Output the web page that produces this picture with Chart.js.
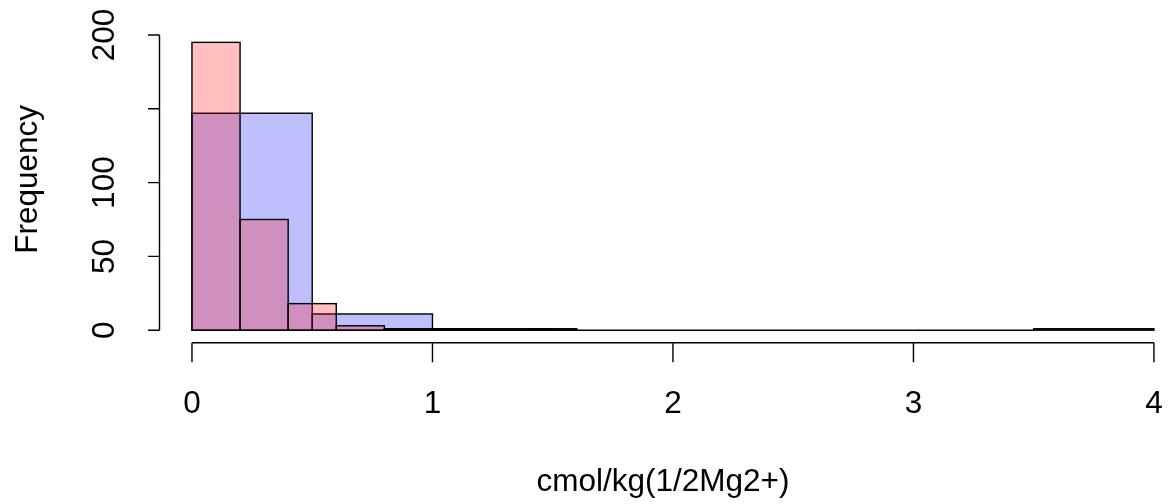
<!DOCTYPE html>
<html>
<head>
<meta charset="utf-8">
<script src="https://cdn.jsdelivr.net/npm/chart.js@4.4.1/dist/chart.umd.min.js"></script>
<style>
  html, body { margin: 0; padding: 0; background: #fff; }
  #wrap { width: 1171px; height: 504px; }
</style>
</head>
<body>
<div id="wrap"><canvas id="myChart" width="1171" height="504"></canvas></div>
<script>
// histogram bins (edges) and counts
const redBreaks = [0, 0.2, 0.4, 0.6, 0.8, 1.0, 1.2, 1.4, 1.6];
const redCounts = [195, 75, 18, 3, 1, 1, 0, 1];
const blueBreaks = [0, 0.5, 1.0, 1.5, 2.0, 2.5, 3.0, 3.5, 4.0];
const blueCounts = [147, 11, 1, 0, 0, 0, 0, 1];

// axis ticks
const xTicks = [0, 1, 2, 3, 4];
const xTickLabels = ['0', '1', '2', '3', '4'];
const yTicks = [0, 50, 100, 150, 200];
const yTickLabels = ['0', '50', '100', '', '200'];  // R drops 150 (overlap)

const xTitle = 'cmol/kg(1/2Mg2+)';
const yTitle = 'Frequency';

const xMin = -0.135, xMax = 4.046;
const yMin = -8.46, yMax = 210.15;

function binPoints(breaks, counts) {
    return counts.map((c, i) => ({ x: (breaks[i] + breaks[i + 1]) / 2, y: c }));
}

const FONT = '31.5px "Liberation Sans", Arial, sans-serif';
const LW = 1.4;

// R draws bar outlines centred on the edges, zero bins become flat lines
const rOutlines = {
    id: 'rOutlines',
    afterDatasetDraw(chart, args) {
        const ctx = chart.ctx;
        ctx.save();
        ctx.strokeStyle = '#000';
        ctx.lineWidth = LW;
        args.meta.data.forEach(bar => {
            const p = bar.getProps(['x', 'y', 'base', 'width'], true);
            const left = p.x - p.width / 2;
            ctx.strokeRect(left, p.y, p.width, p.base - p.y);
        });
        ctx.restore();
    }
};

// R style axes: lines from first to last tick, outward ticks
const rAxes = {
    id: 'rAxes',
    afterDraw(chart) {
        const ctx = chart.ctx;
        const area = chart.chartArea;
        const xs = chart.scales.xBlue;
        const ys = chart.scales.y;
        ctx.save();
        ctx.strokeStyle = '#000';
        ctx.fillStyle = '#000';
        ctx.lineWidth = LW;
        ctx.font = FONT;

        // x axis
        const ax = area.bottom;
        ctx.beginPath();
        ctx.moveTo(xs.getPixelForValue(xTicks[0]), ax);
        ctx.lineTo(xs.getPixelForValue(xTicks[xTicks.length - 1]), ax);
        xTicks.forEach(v => {
            const px = xs.getPixelForValue(v);
            ctx.moveTo(px, ax);
            ctx.lineTo(px, ax + 19.5);
        });
        ctx.stroke();
        ctx.textAlign = 'center';
        ctx.textBaseline = 'alphabetic';
        xTicks.forEach((v, i) => {
            ctx.fillText(xTickLabels[i], xs.getPixelForValue(v), ax + 70);
        });
        ctx.fillText(xTitle, 663, 491);

        // y axis
        const ay = area.left;
        ctx.beginPath();
        ctx.moveTo(ay, ys.getPixelForValue(yTicks[0]));
        ctx.lineTo(ay, ys.getPixelForValue(yTicks[yTicks.length - 1]));
        yTicks.forEach(v => {
            const py = ys.getPixelForValue(v);
            ctx.moveTo(ay, py);
            ctx.lineTo(ay - 11.5, py);
        });
        ctx.stroke();
        yTicks.forEach((v, i) => {
            if (!yTickLabels[i]) return;
            ctx.save();
            ctx.translate(ay - 46, ys.getPixelForValue(v));
            ctx.rotate(-Math.PI / 2);
            ctx.fillText(yTickLabels[i], 0, 0);
            ctx.restore();
        });
        ctx.save();
        ctx.translate(37, (area.top + area.bottom) / 2 - 2);
        ctx.rotate(-Math.PI / 2);
        ctx.fillText(yTitle, 0, 0);
        ctx.restore();

        ctx.restore();
    }
};

const ctx = document.getElementById('myChart').getContext('2d');
new Chart(ctx, {
    type: 'bar',
    data: {
        datasets: [{
            // first dataset is painted last, so red sits on top like in R
            label: 'red',
            data: binPoints(redBreaks, redCounts),
            xAxisID: 'xRed',
            backgroundColor: 'rgba(255, 0, 0, 0.25)',
            borderWidth: 0
        }, {
            label: 'blue',
            data: binPoints(blueBreaks, blueCounts),
            xAxisID: 'xBlue',
            backgroundColor: 'rgba(0, 0, 255, 0.25)',
            borderWidth: 0
        }]
    },
    options: {
        responsive: false,
        animation: false,
        grouped: false,
        barPercentage: 1,
        categoryPercentage: 1,
        layout: {
            padding: { left: 159.5, right: 6, top: 20, bottom: 161.3 }
        },
        plugins: {
            legend: { display: false },
            tooltip: { enabled: false },
            title: { display: false }
        },
        scales: {
            xRed: { type: 'linear', min: xMin, max: xMax, offset: false, display: false },
            xBlue: { type: 'linear', min: xMin, max: xMax, offset: false, display: false },
            y: { type: 'linear', min: yMin, max: yMax, display: false }
        }
    },
    plugins: [rOutlines, rAxes]
});
</script>
</body>
</html>
